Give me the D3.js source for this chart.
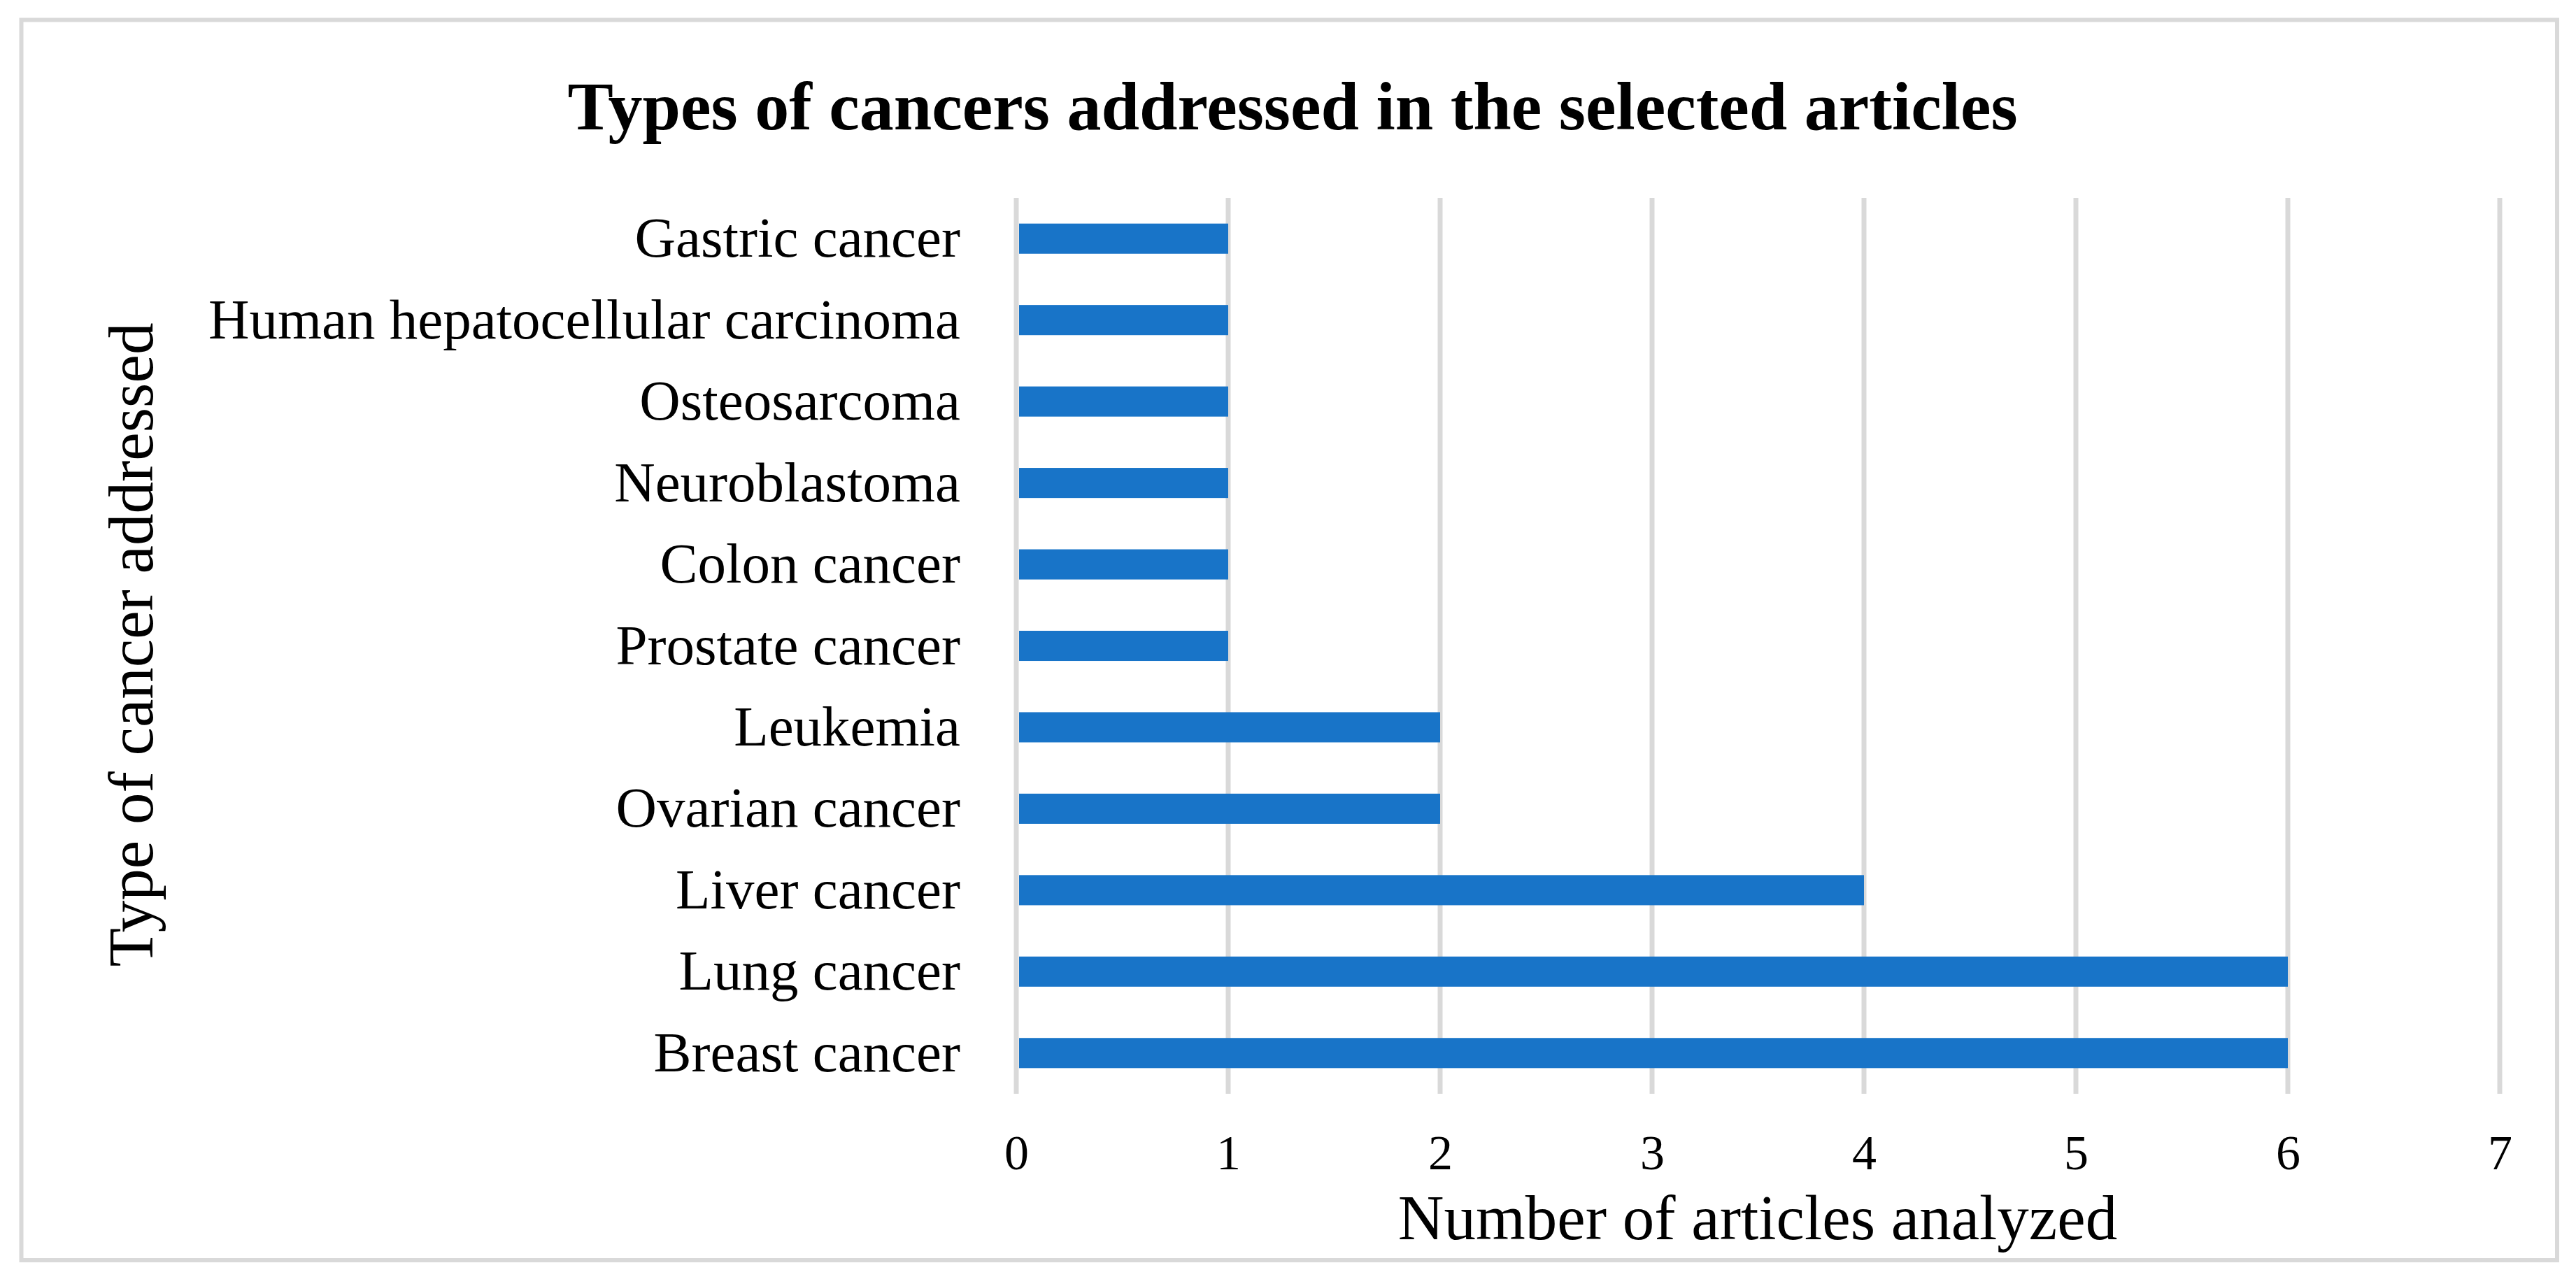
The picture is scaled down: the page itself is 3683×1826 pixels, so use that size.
<!DOCTYPE html>
<html>
<head>
<meta charset="utf-8">
<script src="https://cdn.jsdelivr.net/npm/d3@7"></script>
<style>
  html, body { margin: 0; padding: 0; background: #fff; }
  svg { display: block; }
  text { font-family: "Liberation Serif", "Times New Roman", serif; fill: #000; }
</style>
</head>
<body>
<svg id="chart" width="3683" height="1826"></svg>
<script>
// ---- data ----
const categories = [
  "Gastric cancer",
  "Human hepatocellular carcinoma",
  "Osteosarcoma",
  "Neuroblastoma",
  "Colon cancer",
  "Prostate cancer",
  "Leukemia",
  "Ovarian cancer",
  "Liver cancer",
  "Lung cancer",
  "Breast cancer"
];
const articleCounts = [1, 1, 1, 1, 1, 1, 2, 2, 4, 6, 6];
const xTicks = [0, 1, 2, 3, 4, 5, 6, 7];
const titleText = "Types of cancers addressed in the selected articles";
const xTitleText = "Number of articles analyzed";
const yTitleText = "Type of cancer addressed";

// ---- layout ----
const W = 3683, H = 1826;
const plot = { left: 1453, right: 3574, top: 283, bottom: 1564 };
const svg = d3.select("#chart");

svg.append("rect").attr("x", 0).attr("y", 0).attr("width", W).attr("height", H).attr("fill", "#fff");
svg.append("rect")
  .attr("x", 30.5).attr("y", 28.5).attr("width", 3656 - 30.5).attr("height", 1802 - 28.5)
  .attr("fill", "#fff").attr("stroke", "#d9d9d9").attr("stroke-width", 6);

const x = d3.scaleLinear().domain([0, 7]).range([plot.left, plot.right]);
const y = d3.scaleBand().domain(categories).range([plot.top, plot.bottom])
  .paddingInner(0.63).paddingOuter(0.315);

// gridlines
svg.append("g").selectAll("line").data(xTicks).join("line")
  .attr("x1", d => x(d)).attr("x2", d => x(d))
  .attr("y1", plot.top).attr("y2", plot.bottom)
  .attr("stroke", "#d9d9d9").attr("stroke-width", 7);

// bars
svg.append("g").selectAll("rect").data(categories).join("rect")
  .attr("x", x(0) + 4)
  .attr("y", d => y(d))
  .attr("width", (d, i) => x(articleCounts[i]) - x(0) - 4)
  .attr("height", y.bandwidth())
  .attr("fill", "#1874c8");

// x axis tick labels
const xAxis = d3.axisBottom(x).tickValues(xTicks).tickSize(0).tickPadding(0).tickFormat(d3.format("d"));
const gx = svg.append("g").attr("transform", `translate(0,${plot.bottom})`).call(xAxis);
gx.select(".domain").remove();
gx.selectAll("text")
  .attr("y", 0).attr("dy", 0)
  .attr("transform", "translate(0,108)")
  .style("font-family", '"Liberation Serif", serif')
  .style("font-size", "70px").attr("fill", "#000");

// y axis category labels
const yAxis = d3.axisLeft(y).tickSize(0).tickPadding(0);
const gy = svg.append("g").attr("transform", `translate(1373,0)`).call(yAxis);
gy.select(".domain").remove();
gy.selectAll("text")
  .attr("x", 0).attr("dy", 0)
  .attr("transform", "translate(0,26)")
  .style("font-family", '"Liberation Serif", serif')
  .style("font-size", "81px").attr("fill", "#000");

// title
svg.append("text")
  .attr("x", 1848).attr("y", 185)
  .attr("text-anchor", "middle")
  .style("font-size", "98px").style("font-weight", "bold")
  .text(titleText);

// x title
svg.append("text")
  .attr("x", 2513).attr("y", 1772)
  .attr("text-anchor", "middle")
  .style("font-size", "91px")
  .text(xTitleText);

// y title
svg.append("text")
  .attr("transform", "translate(218,922) rotate(-90)")
  .attr("text-anchor", "middle")
  .style("font-size", "91px")
  .text(yTitleText);
</script>
</body>
</html>
